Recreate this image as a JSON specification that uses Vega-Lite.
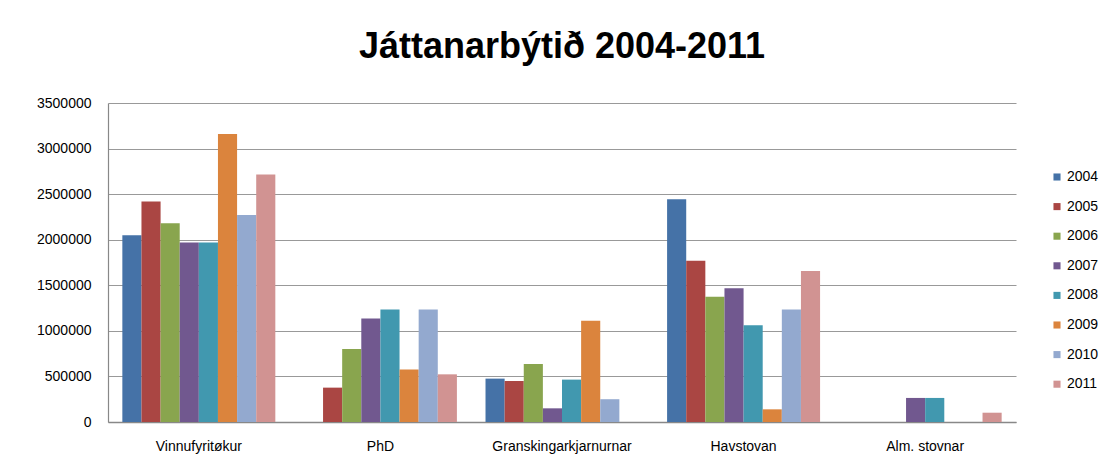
{
  "$schema": "https://vega.github.io/schema/vega-lite/v6.json",
  "width": 908,
  "height": 319,
  "autosize": {"type": "none"},
  "padding": {"left": 108, "top": 103, "right": 94, "bottom": 51},
  "background": "white",
  "title": {
    "text": "Játtanarbýtið 2004-2011",
    "font": "Liberation Sans",
    "fontSize": 36,
    "fontWeight": "bold",
    "color": "#000000",
    "anchor": "middle",
    "frame": "group",
    "baseline": "alphabetic",
    "offset": 2
  },
  "config": {
    "view": {"stroke": null},
    "axis": {"labelFont": "Liberation Sans", "labelFontSize": 14, "labelColor": "#000000"}
  },
  "data": {
    "values": [
      {"category": "Vinnufyritøkur", "year": "2004", "value": 2050000},
      {"category": "Vinnufyritøkur", "year": "2005", "value": 2420000},
      {"category": "Vinnufyritøkur", "year": "2006", "value": 2180000},
      {"category": "Vinnufyritøkur", "year": "2007", "value": 1970000},
      {"category": "Vinnufyritøkur", "year": "2008", "value": 1970000},
      {"category": "Vinnufyritøkur", "year": "2009", "value": 3160000},
      {"category": "Vinnufyritøkur", "year": "2010", "value": 2270000},
      {"category": "Vinnufyritøkur", "year": "2011", "value": 2715000},
      {"category": "PhD", "year": "2005", "value": 377000},
      {"category": "PhD", "year": "2006", "value": 800000},
      {"category": "PhD", "year": "2007", "value": 1135000},
      {"category": "PhD", "year": "2008", "value": 1233000},
      {"category": "PhD", "year": "2009", "value": 575000},
      {"category": "PhD", "year": "2010", "value": 1233000},
      {"category": "PhD", "year": "2011", "value": 523000},
      {"category": "Granskingarkjarnurnar", "year": "2004", "value": 476000},
      {"category": "Granskingarkjarnurnar", "year": "2005", "value": 450000},
      {"category": "Granskingarkjarnurnar", "year": "2006", "value": 637000},
      {"category": "Granskingarkjarnurnar", "year": "2007", "value": 150000},
      {"category": "Granskingarkjarnurnar", "year": "2008", "value": 465000},
      {"category": "Granskingarkjarnurnar", "year": "2009", "value": 1110000},
      {"category": "Granskingarkjarnurnar", "year": "2010", "value": 250000},
      {"category": "Havstovan", "year": "2004", "value": 2445000},
      {"category": "Havstovan", "year": "2005", "value": 1770000},
      {"category": "Havstovan", "year": "2006", "value": 1373000},
      {"category": "Havstovan", "year": "2007", "value": 1468000},
      {"category": "Havstovan", "year": "2008", "value": 1062000},
      {"category": "Havstovan", "year": "2009", "value": 139000},
      {"category": "Havstovan", "year": "2010", "value": 1233000},
      {"category": "Havstovan", "year": "2011", "value": 1658000},
      {"category": "Alm. stovnar", "year": "2007", "value": 264000},
      {"category": "Alm. stovnar", "year": "2008", "value": 264000},
      {"category": "Alm. stovnar", "year": "2011", "value": 102000}
    ]
  },
  "mark": {"type": "bar"},
  "encoding": {
    "x": {
      "field": "category",
      "type": "nominal",
      "sort": ["Vinnufyritøkur", "PhD", "Granskingarkjarnurnar", "Havstovan", "Alm. stovnar"],
      "scale": {"paddingInner": 0.1575, "paddingOuter": 0.079},
      "axis": {
        "title": null,
        "labelAngle": 0,
        "ticks": false,
        "labelPadding": 17,
        "grid": false,
        "domainColor": "#888888",
        "domainWidth": 1.5
      }
    },
    "xOffset": {
      "field": "year",
      "type": "nominal",
      "scale": {"paddingInner": 0, "paddingOuter": 0}
    },
    "y": {
      "field": "value",
      "type": "quantitative",
      "scale": {"domain": [0, 3500000], "nice": false},
      "axis": {
        "title": null,
        "values": [0, 500000, 1000000, 1500000, 2000000, 2500000, 3000000, 3500000],
        "format": "d",
        "ticks": false,
        "labelPadding": 17,
        "grid": true,
        "gridColor": "#999999",
        "gridWidth": 1.2,
        "domainColor": "#888888",
        "domainWidth": 1.2
      }
    },
    "color": {
      "field": "year",
      "type": "nominal",
      "scale": {
        "domain": ["2004", "2005", "2006", "2007", "2008", "2009", "2010", "2011"],
        "range": ["#4572A7", "#AA4643", "#89A54E", "#71588F", "#4198AF", "#DB843D", "#93A9CF", "#D19392"]
      },
      "legend": {
        "title": null,
        "orient": "none",
        "legendX": 942,
        "legendY": 67,
        "symbolType": "square",
        "symbolSize": 50,
        "symbolStrokeWidth": 0,
        "labelFont": "Liberation Sans",
        "labelFontSize": 14,
        "labelColor": "#000000",
        "labelOffset": 3,
        "rowPadding": 15.6,
        "padding": 0
      }
    }
  }
}
